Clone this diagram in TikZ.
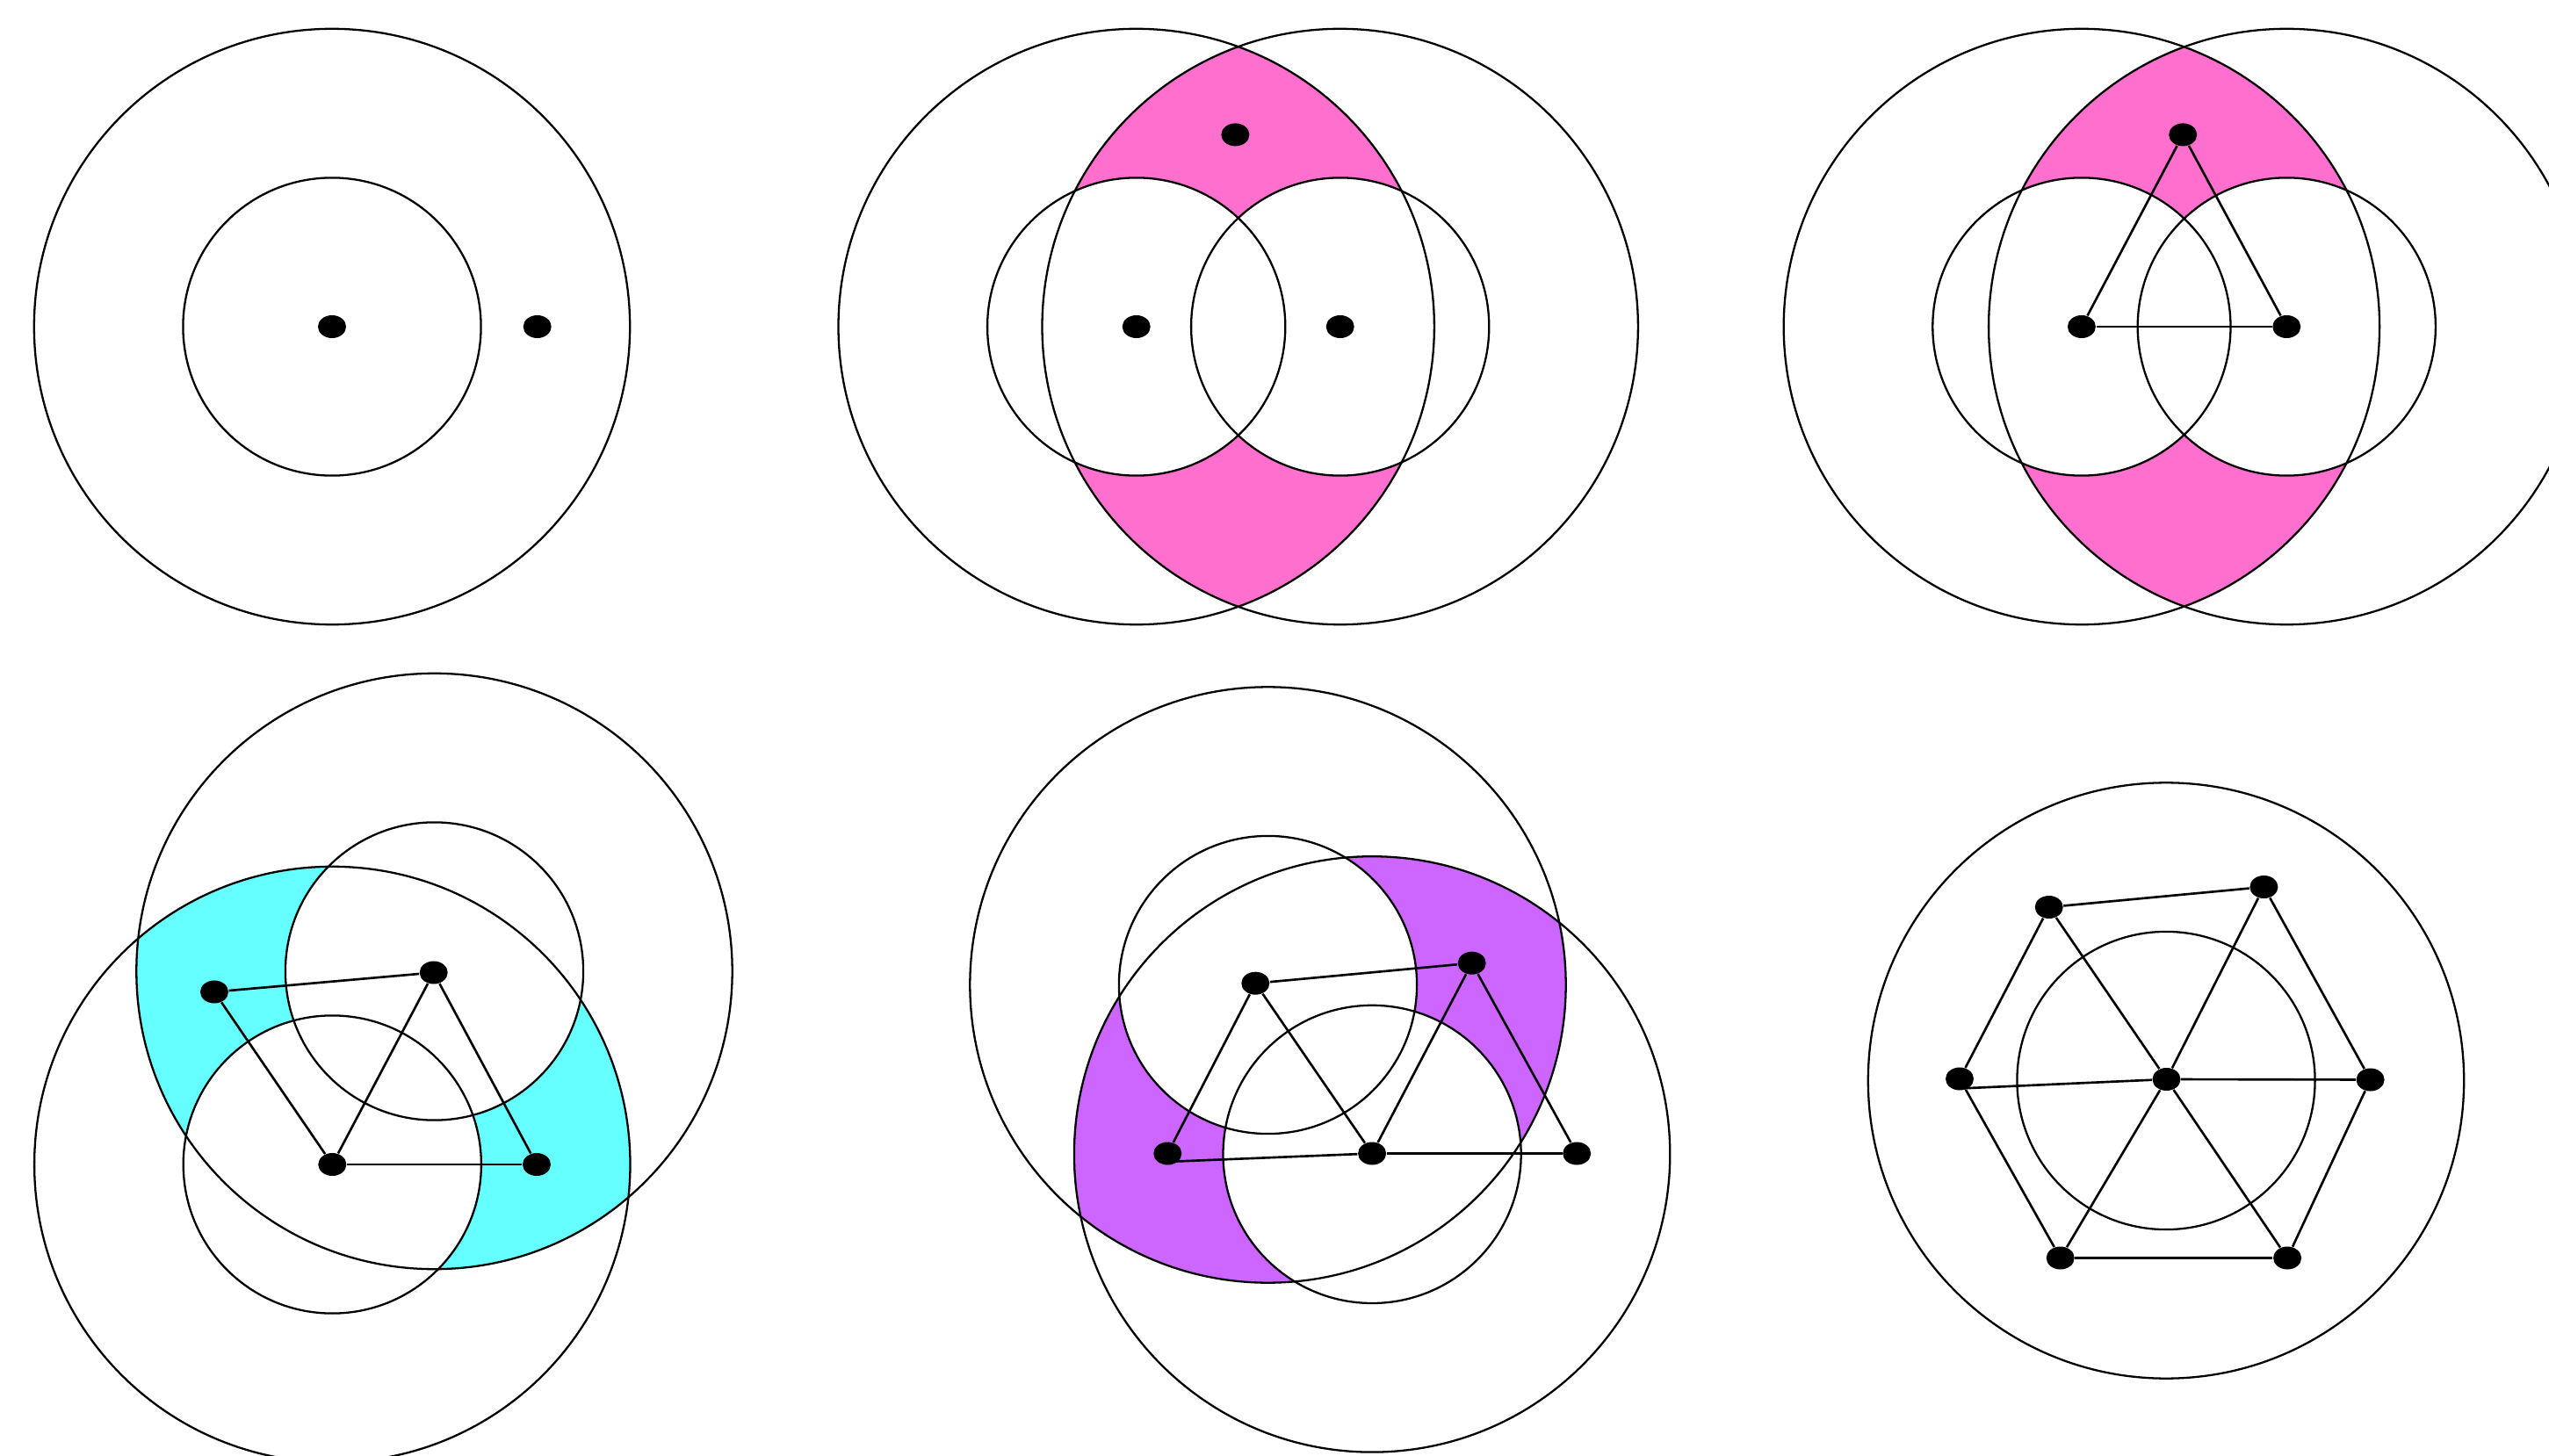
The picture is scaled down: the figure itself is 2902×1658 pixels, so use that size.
\documentclass[tikz,border=0pt]{standalone}
\usetikzlibrary{shapes.geometric}
\definecolor{lenspink}{RGB}{255,112,206}
\definecolor{lenscyan}{RGB}{102,255,255}
\definecolor{lenspurple}{RGB}{204,102,255}
\newcommand\RadBig{3.39cm}
\newcommand\RadSmall{1.695cm}
\tikzset{
  ring/.style={draw=black, line width=0.65pt},
  dot/.style={ellipse, fill=black, draw=none, inner sep=0pt, minimum width=0.32cm, minimum height=0.26cm},
  link/.style={draw=black, line width=0.75pt},
}
\begin{document}
\begin{tikzpicture}[x=0.01cm,y=-0.01cm]
\useasboundingbox (0,0) rectangle (2902,1658);
\clip (0,0) rectangle (2902,1658);
\fill[white] (0,0) rectangle (2902,1658);

% ---------------- Panel 1 ----------------
\coordinate (c1) at (378,372);
\draw[ring] (c1) circle[radius=\RadBig];
\draw[ring] (c1) circle[radius=\RadSmall];
\node[dot] (p1a) at (c1) {};
\node[dot] (p1b) at (611.7,372) {};

% ---------------- Panel 2 ----------------
\coordinate (c2l) at (1293.7,372);
\coordinate (c2r) at (1525.7,372);
\begin{scope}
  \clip (c2l) circle[radius=\RadBig];
  \fill[lenspink] (c2r) circle[radius=\RadBig];
  \fill[white] (c2l) circle[radius=\RadSmall] (c2r) circle[radius=\RadSmall];
\end{scope}
\draw[ring] (c2l) circle[radius=\RadBig];
\draw[ring] (c2r) circle[radius=\RadBig];
\draw[ring] (c2l) circle[radius=\RadSmall];
\draw[ring] (c2r) circle[radius=\RadSmall];
\node[dot] (p2a) at (c2l) {};
\node[dot] (p2b) at (c2r) {};
\node[dot] (p2c) at (1406.4,153.4) {};

% ---------------- Panel 3 ----------------
\coordinate (c3l) at (2369.9,372);
\coordinate (c3r) at (2603.3,372);
\begin{scope}
  \clip (c3l) circle[radius=\RadBig];
  \fill[lenspink] (c3r) circle[radius=\RadBig];
  \fill[white] (c3l) circle[radius=\RadSmall] (c3r) circle[radius=\RadSmall];
\end{scope}
\draw[ring] (c3l) circle[radius=\RadBig];
\draw[ring] (c3r) circle[radius=\RadBig];
\draw[ring] (c3l) circle[radius=\RadSmall];
\draw[ring] (c3r) circle[radius=\RadSmall];
\node[dot] (p3a) at (c3l) {};
\node[dot] (p3b) at (c3r) {};
\node[dot] (p3c) at (2485.2,153.4) {};
\draw[link] (p3c) -- (p3a);
\draw[link] (p3c) -- (p3b);
\draw[link] (p3a) -- (p3b);

% ---------------- Panel 4 ----------------
\coordinate (c4t) at (494.5,1106);
\coordinate (c4b) at (378.3,1326);
\begin{scope}
  \clip (c4t) circle[radius=\RadBig];
  \fill[lenscyan] (c4b) circle[radius=\RadBig];
  \fill[white] (c4t) circle[radius=\RadSmall] (c4b) circle[radius=\RadSmall];
\end{scope}
\draw[ring] (c4t) circle[radius=\RadBig];
\draw[ring] (c4b) circle[radius=\RadBig];
\draw[ring] (c4t) circle[radius=\RadSmall];
\draw[ring] (c4b) circle[radius=\RadSmall];
\node[dot] (p4a) at (244,1129.5) {};
\node[dot] (p4b) at (493.7,1107.5) {};
\node[dot] (p4c) at (378.3,1326) {};
\node[dot] (p4d) at (611,1326) {};
\draw[link] (p4a) -- (p4b);
\draw[link] (p4a) -- (p4c);
\draw[link] (p4b) -- (p4c);
\draw[link] (p4b) -- (p4d);
\draw[link] (p4c) -- (p4d);

% ---------------- Panel 5 ----------------
\coordinate (c5t) at (1443.5,1121.5);
\coordinate (c5b) at (1562.1,1314.4);
\begin{scope}
  \clip (c5t) circle[radius=\RadBig];
  \fill[lenspurple] (c5b) circle[radius=\RadBig];
  \fill[white] (c5t) circle[radius=\RadSmall] (c5b) circle[radius=\RadSmall];
\end{scope}
\draw[ring] (c5t) circle[radius=\RadBig];
\draw[ring] (c5b) circle[radius=\RadBig];
\draw[ring] (c5t) circle[radius=\RadSmall];
\draw[ring] (c5b) circle[radius=\RadSmall];
\node[dot] (p5a) at (1429.3,1119.7) {};
\node[dot] (p5b) at (1675.7,1096.7) {};
\node[dot] (p5c) at (1329.3,1313.5) {};
\node[dot] (p5d) at (1562.1,1313.5) {};
\node[dot] (p5e) at (1795.2,1313.5) {};
\draw[link] (p5a) -- (p5b);
\draw[link] (p5a) -- (p5c);
\draw[link] (p5a) -- (p5d);
\draw[link] (p5b) -- (p5d);
\draw[link] (p5b) -- (p5e);
\draw[link] ([yshift=-0.094cm]p5c.center) -- (p5d);
\draw[link] (p5d) -- (p5e);

% ---------------- Panel 6 ----------------
\coordinate (c6) at (2466,1230.5);
\draw[ring] (c6) circle[radius=\RadBig];
\draw[ring] (c6) circle[radius=\RadSmall];
\node[dot] (p6o) at (2466.5,1229) {};
\node[dot] (p6tl) at (2332.7,1033) {};
\node[dot] (p6tr) at (2577.4,1010) {};
\node[dot] (p6r) at (2698.6,1229.5) {};
\node[dot] (p6br) at (2604.1,1432.5) {};
\node[dot] (p6bl) at (2345.7,1432.5) {};
\node[dot] (p6l) at (2231,1228.5) {};
\draw[link] (p6tl) -- (p6tr);
\draw[link] (p6tr) -- (p6r);
\draw[link] (p6r) -- (p6br);
\draw[link] (p6br) -- (p6bl);
\draw[link] (p6bl) -- (p6l);
\draw[link] (p6l) -- (p6tl);
\draw[link] (p6tl) -- (p6o);
\draw[link] (p6o) -- (p6br);
\draw[link] (p6tr) -- (p6o);
\draw[link] (p6o) -- (p6bl);
\draw[link] ([yshift=-0.11cm]p6l.center) -- (p6o);
\draw[link] (p6o) -- (p6r);
\end{tikzpicture}
\end{document}
